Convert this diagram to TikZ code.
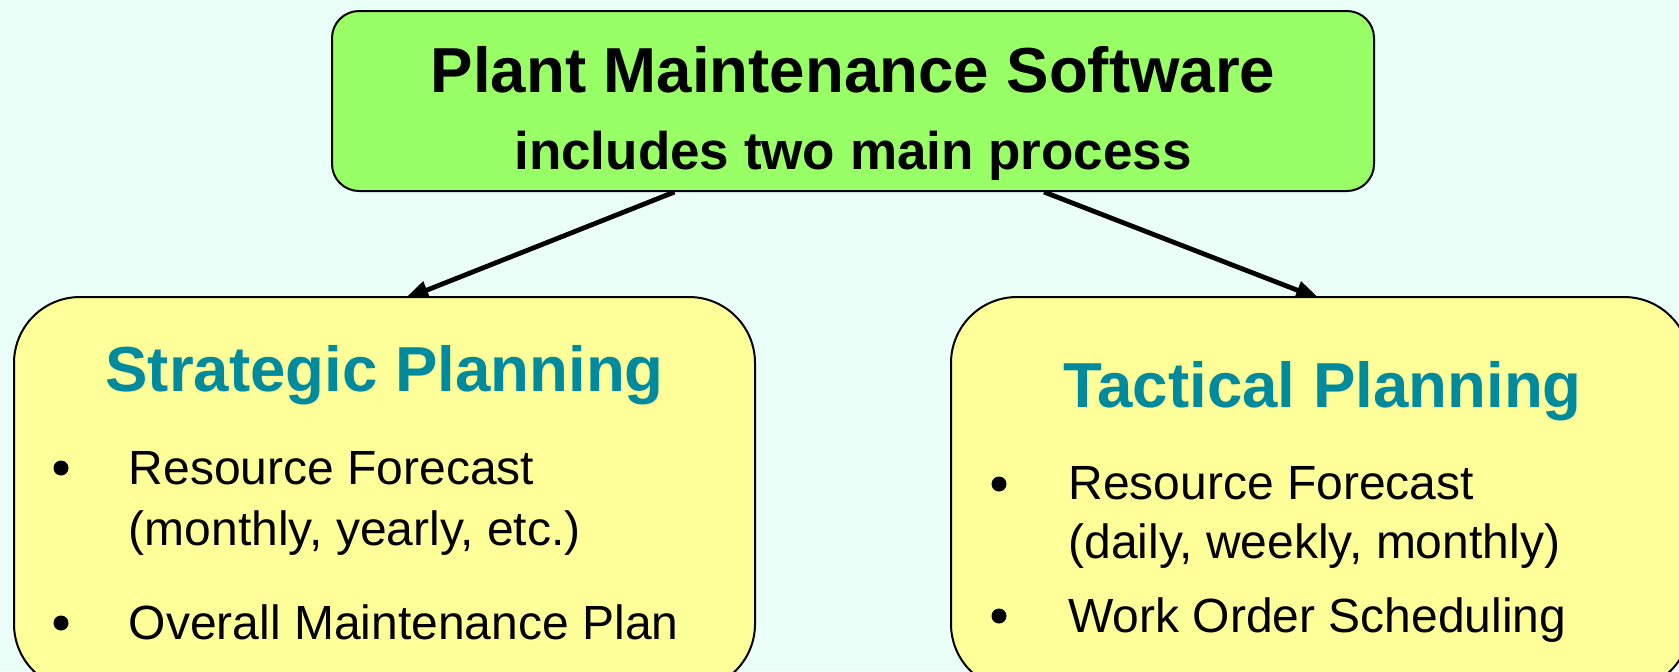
\documentclass[tikz,border=0pt]{standalone}
\usepackage{fontspec}
\setmainfont{Liberation Sans}
\usetikzlibrary{arrows.meta, positioning, calc}
\definecolor{bgmint}{HTML}{EBFFF9}
\definecolor{softgreen}{HTML}{99FF66}
\definecolor{paleyellow}{HTML}{FFFF99}
\definecolor{headteal}{HTML}{008A9E}

\pgfdeclarelayer{backdrop}
\pgfdeclarelayer{links}
\pgfsetlayers{backdrop,links,main}

\tikzset{
  topbox/.style={draw=black, line width=1pt, fill=softgreen, rounded corners=13.5pt, inner sep=0pt},
  planbox/.style={draw=black, line width=1pt, fill=paleyellow, rounded corners=33pt, inner sep=0pt},
  titletext/.style={font=\fontsize{31.8}{36}\selectfont\bfseries, inner sep=0pt, anchor=base},
  subtext/.style={font=\fontsize{26.5}{30}\selectfont\bfseries, inner sep=0pt, anchor=base},
  headtext/.style={font=\fontsize{31.8}{36}\selectfont\bfseries, text=headteal, inner sep=0pt, anchor=base west},
  itemtext/.style={font=\fontsize{24}{28}\selectfont, inner sep=0pt, anchor=base west},
  dot/.style={circle, fill=black, inner sep=0pt, minimum size=7.5pt},
  flow/.style={line width=2.4pt, shorten >=-4pt, -{Triangle[length=12pt, width=9pt]}}
}

\begin{document}
\begin{tikzpicture}[x=0.5pt, y=-0.5pt]
  % Page and background
  \useasboundingbox (0,0) rectangle (1679,671);
  \begin{pgfonlayer}{backdrop}
    \fill[bgmint] (0,0) rectangle (1679,671);
  \end{pgfonlayer}
  \clip (0,0) rectangle (1679,671);

  % Boxes
  \node[topbox, minimum width=521pt, minimum height=90pt] (pms) at (853,101) {};
  \node[planbox, minimum width=370.5pt, minimum height=196.5pt] (strat) at (384.5,493.5) {};
  \node[planbox, minimum width=369.5pt, minimum height=196.5pt] (tact) at (1320.5,493.5) {};

  % Top box text
  \node[titletext] (pmsTitle) at (853,92) {Plant Maintenance Software};
  \node[subtext] (pmsSub) at (853,169) {includes two main process};

  % Strategic planning
  \node[headtext] (stratHead) at (105,391) {Strategic Planning};
  \node[dot] (stratDotA) at (61,468) {};
  \node[itemtext] (stratItemA) at (128.5,484) {Resource Forecast};
  \node[itemtext] (stratItemB) at (128.5,545) {(monthly, yearly, etc.)};
  \node[dot] (stratDotB) at (61,623) {};
  \node[itemtext] (stratItemC) at (128.5,639) {Overall Maintenance Plan};

  % Tactical planning
  \node[headtext] (tactHead) at (1063,407) {Tactical Planning};
  \node[dot] (tactDotA) at (999,484) {};
  \node[itemtext] (tactItemA) at (1068,499) {Resource Forecast};
  \node[itemtext] (tactItemB) at (1068,558) {(daily, weekly, monthly)};
  \node[dot] (tactDotB) at (999,616) {};
  \node[itemtext] (tactItemC) at (1068,632) {Work Order Scheduling};

  % Connectors
  \begin{pgfonlayer}{links}
    \draw[flow] ($(pms.south west)!0.329!(pms.south east)$) -- ($(strat.north west)!0.537!(strat.north east)$);
    \draw[flow] ($(pms.south west)!0.683!(pms.south east)$) -- ($(tact.north west)!0.489!(tact.north east)$);
  \end{pgfonlayer}
\end{tikzpicture}
\end{document}
